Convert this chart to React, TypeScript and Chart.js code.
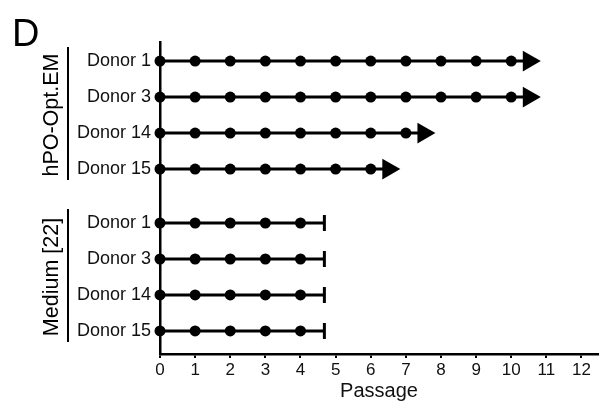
import React, { useEffect, useRef } from "react";
import { Chart, registerables } from "chart.js";

Chart.register(...registerables);

const panelLetter = "D";
const groupNames = ["hPO-Opt.EM", "Medium [22]"];
const donorNames = ["Donor 1", "Donor 3", "Donor 14", "Donor 15"];
const optLastPassage = [10, 10, 7, 6];
const optArrowEnd = [10.5, 10.5, 7.5, 6.5];
const mediumLastPassage = [4, 4, 4, 4];
const mediumStopEnd = [4.68, 4.68, 4.68, 4.68];
const optRows = [0, 1, 2, 3];
const mediumRows = [4.5, 5.5, 6.5, 7.5];
const xTickValues = [0, 1, 2, 3, 4, 5, 6, 7, 8, 9, 10, 11, 12];
const xTitle = "Passage";

const FONT = "'Liberation Sans', Arial, Helvetica, sans-serif";
const INK = "#000";

type Kind = "arrow" | "stop";

function makeDataset(row: number, last: number, end: number, kind: Kind) {
  const pts: { x: number; y: number }[] = [];
  const styles: string[] = [];
  const radii: number[] = [];
  const rots: number[] = [];
  const bw: number[] = [];
  for (let p = 0; p <= last; p++) {
    pts.push({ x: p, y: row });
    styles.push("circle");
    radii.push(5.5);
    rots.push(0);
    bw.push(0);
  }
  pts.push({ x: end, y: row });
  if (kind === "arrow") {
    styles.push("triangle");
    radii.push(12);
    rots.push(90);
    bw.push(0);
  } else {
    styles.push("line");
    radii.push(8);
    rots.push(90);
    bw.push(3);
  }
  return {
    data: pts,
    showLine: true,
    borderColor: INK,
    borderWidth: 3,
    backgroundColor: INK,
    pointBackgroundColor: INK,
    pointBorderColor: INK,
    pointStyle: styles,
    pointRadius: radii,
    pointRotation: rots,
    pointBorderWidth: bw,
    clip: false as const,
  };
}

const groupLabelPlugin = {
  id: "groupLabels",
  afterDraw(chart: any) {
    const ctx = chart.ctx as CanvasRenderingContext2D;
    const y = chart.scales.y;
    ctx.save();
    ctx.fillStyle = INK;
    ctx.font = `38px ${FONT}`;
    ctx.textAlign = "left";
    ctx.textBaseline = "alphabetic";
    ctx.fillText(panelLetter, 12, 46);

    const groups = [optRows, mediumRows];
    groups.forEach((rows, gi) => {
      const top = y.getPixelForValue(rows[0]);
      const bot = y.getPixelForValue(rows[rows.length - 1]);
      const mid = (top + bot) / 2;
      ctx.strokeStyle = INK;
      ctx.lineWidth = 2;
      ctx.beginPath();
      ctx.moveTo(68, top - 14);
      ctx.lineTo(68, bot + 11);
      ctx.stroke();
      ctx.save();
      ctx.translate(52, mid);
      ctx.rotate(-Math.PI / 2);
      ctx.font = `21.5px ${FONT}`;
      ctx.textAlign = "center";
      ctx.textBaseline = "middle";
      ctx.fillText(groupNames[gi], 0, 0);
      ctx.restore();
    });
    ctx.restore();
  },
};

export default function App() {
  const ref = useRef<HTMLCanvasElement | null>(null);
  useEffect(() => {
    document.body.style.margin = "0";
    const datasets: any[] = [];
    optRows.forEach((r, i) =>
      datasets.push(makeDataset(r, optLastPassage[i], optArrowEnd[i], "arrow"))
    );
    mediumRows.forEach((r, i) =>
      datasets.push(makeDataset(r, mediumLastPassage[i], mediumStopEnd[i], "stop"))
    );
    const rowValues = [...optRows, ...mediumRows];
    const rowLabels = [...donorNames, ...donorNames];
    const chart = new Chart(ref.current!, {
      type: "scatter",
      data: { datasets },
      plugins: [groupLabelPlugin],
      options: {
        animation: false,
        responsive: false,
        devicePixelRatio: 1,
        layout: { autoPadding: false, padding: { top: 42, right: 2, bottom: 0, left: 0 } },
        plugins: { legend: { display: false }, tooltip: { enabled: false } },
        scales: {
          x: {
            type: "linear",
            min: 0,
            max: 12.47,
            afterFit: (s: any) => {
              s.height = 49;
              s.paddingLeft = 0;
              s.paddingRight = 0;
            },
            afterBuildTicks: (s: any) => {
              s.ticks = xTickValues.map((v) => ({ value: v }));
            },
            ticks: {
              color: "#111",
              font: { family: FONT, size: 17 },
              padding: 2,
              callback: (v: any) => String(v),
            },
            grid: {
              display: true,
              drawOnChartArea: false,
              drawTicks: true,
              tickLength: 4,
              color: INK,
              lineWidth: 2,
            },
            border: { display: true, color: INK, width: 2.5 },
            title: {
              display: true,
              text: xTitle,
              color: "#111",
              font: { family: FONT, size: 20 },
              padding: { top: 0, bottom: 0 },
            },
          },
          y: {
            type: "linear",
            reverse: true,
            min: -0.53,
            max: 8.14,
            afterFit: (s: any) => {
              s.width = 160;
              s.paddingTop = 0;
              s.paddingBottom = 0;
            },
            afterBuildTicks: (s: any) => {
              s.ticks = rowValues.map((v) => ({ value: v }));
            },
            ticks: {
              color: "#111",
              font: { family: FONT, size: 18 },
              padding: 9,
              callback: (v: any) => {
                const idx = rowValues.indexOf(Number(v));
                return idx >= 0 ? rowLabels[idx] : "";
              },
            },
            grid: { display: false, drawTicks: false },
            border: { display: true, color: INK, width: 2.5 },
          },
        },
      },
    });
    return () => chart.destroy();
  }, []);
  return (
    <div style={{ width: 600, height: 403, background: "#fff" }}>
      <canvas ref={ref} width={600} height={403} style={{ display: "block" }} />
    </div>
  );
}
